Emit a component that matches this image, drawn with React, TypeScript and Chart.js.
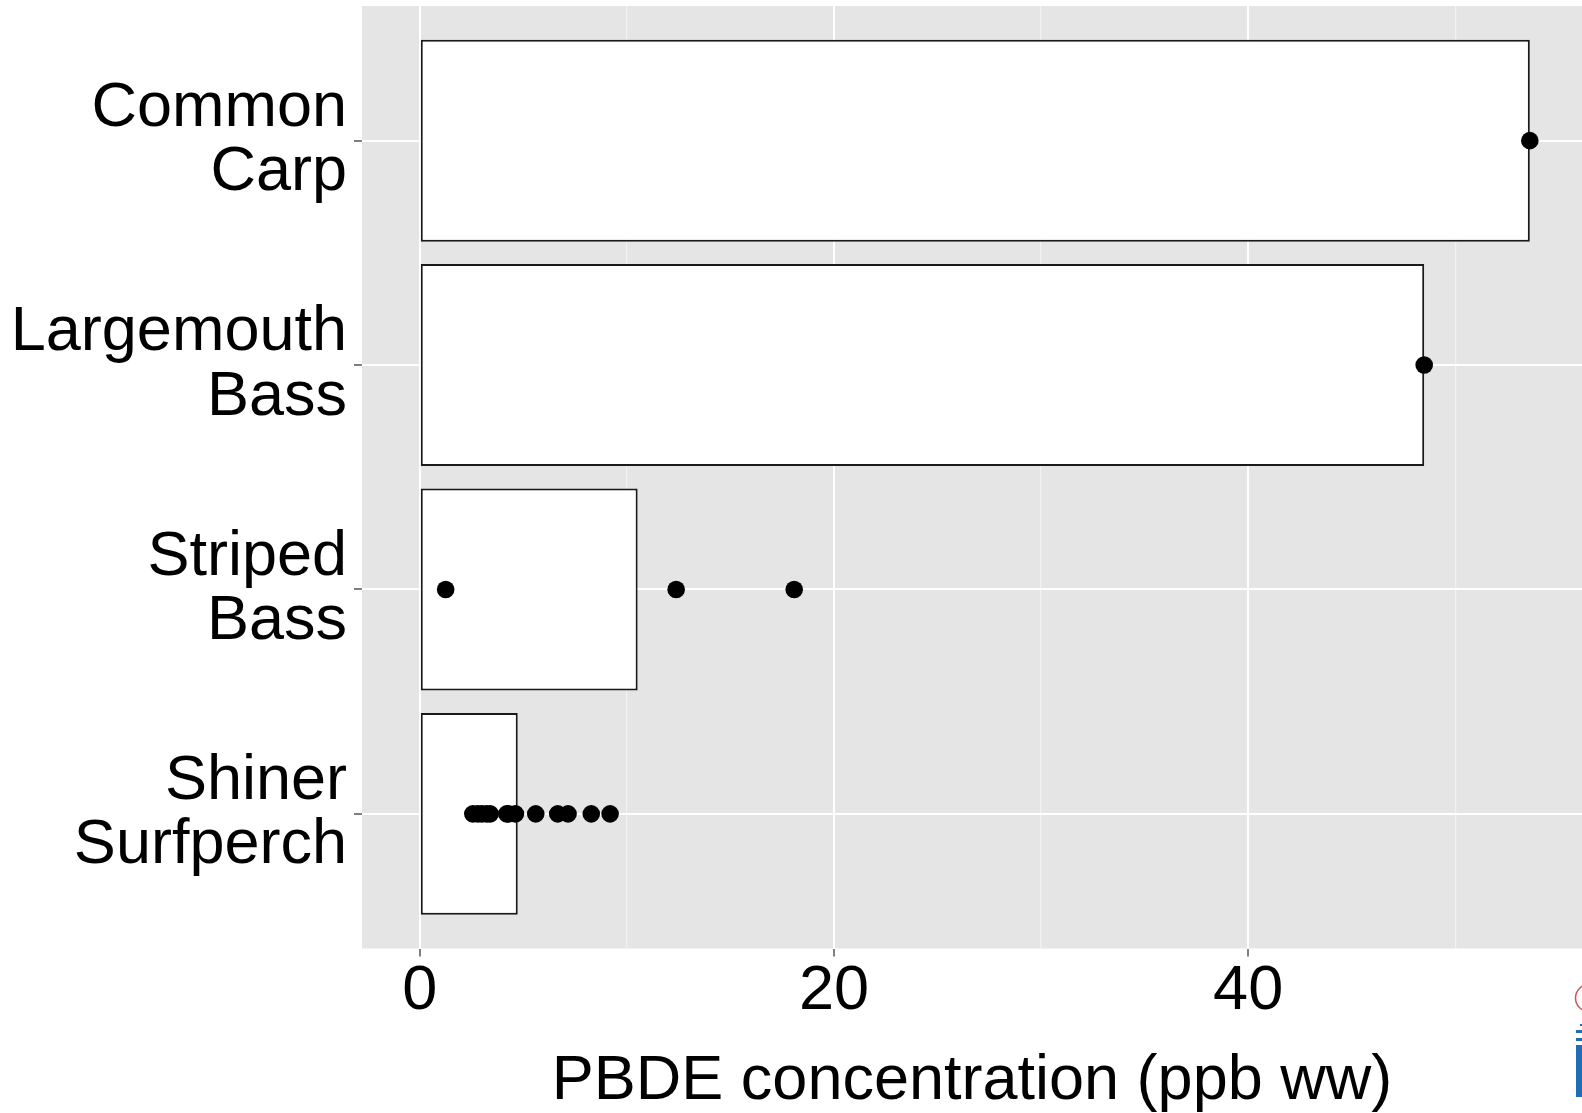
import React, { useEffect, useRef } from "react";
import { Chart, registerables } from "chart.js";

Chart.register(...registerables);

// ---- data ----
const categories: string[][] = [
  ["Common", "Carp"],
  ["Largemouth", "Bass"],
  ["Striped", "Bass"],
  ["Shiner", "Surfperch"],
];
const barValues = [53.6, 48.5, 10.52, 4.73];
const commonCarpSamples = [53.6];
const largemouthBassSamples = [48.5];
const stripedBassSamples = [1.25, 12.38, 18.08];
const shinerSurfperchSamples = [2.56, 2.8, 3.0, 3.23, 3.4, 4.2, 4.28, 4.62, 5.6, 6.66, 7.16, 8.28, 9.19];
const xGridTicks = [0, 10, 20, 30, 40, 50];
const xLabelTicks = [0, 20, 40];
const xTitle = "PBDE concentration (ppb ww)";
const xMin = -2.79;
const xMax = 56.12;

const FONT = "'Liberation Sans', Arial, sans-serif";
const W = 1582;
const H = 1113;

export default function App() {
  const ref = useRef<HTMLCanvasElement | null>(null);

  useEffect(() => {
    if (!ref.current) return;
    const samples = [commonCarpSamples, largemouthBassSamples, stripedBassSamples, shinerSurfperchSamples];
    const points = samples.flatMap((arr, i) => arr.map((v) => ({ x: v, y: i + 1 })));
    const isMajor = (v: any) => xLabelTicks.includes(v);

    const bgPlugin = {
      id: "panelBg",
      beforeDraw(chart: any) {
        const { ctx, chartArea } = chart;
        ctx.save();
        ctx.fillStyle = "#ffffff";
        ctx.fillRect(0, 0, chart.width, chart.height);
        ctx.fillStyle = "#E5E5E5";
        ctx.fillRect(chartArea.left, chartArea.top, chartArea.right - chartArea.left, chartArea.bottom - chartArea.top);
        ctx.restore();
      },
      afterDraw(chart: any) {
        // partially cropped logo in the bottom-right corner
        const { ctx } = chart;
        ctx.save();
        ctx.strokeStyle = "#C8555A";
        ctx.lineWidth = 1.5;
        ctx.beginPath();
        ctx.arc(1589, 998, 13.5, 0, Math.PI * 2);
        ctx.stroke();
        ctx.fillStyle = "#1F6DB4";
        ctx.fillRect(1580, 1024, 2, 2);
        ctx.fillRect(1576, 1030, 6, 3);
        ctx.fillRect(1576, 1038, 6, 3);
        ctx.fillRect(1576, 1045, 6, 52);
        ctx.restore();
      },
    };

    const chart = new Chart(ref.current, {
      type: "scatter",
      data: {
        datasets: [
          {
            type: "bar",
            indexAxis: "y",
            data: barValues.map((v, i) => ({ x: v, y: i + 1 })),
            backgroundColor: "#ffffff",
            borderColor: "#1a1a1a",
            borderWidth: 2,
            borderSkipped: false,
            barPercentage: 0.9,
            categoryPercentage: 1,
            order: 2,
          } as any,
          {
            type: "scatter",
            data: points,
            pointRadius: 8.8,
            pointHoverRadius: 8.8,
            backgroundColor: "#000000",
            borderWidth: 0,
            order: 1,
          } as any,
        ],
      },
      options: {
        animation: false,
        responsive: false,
        events: [],
        layout: { autoPadding: false, padding: { top: 6, left: 0, right: 0, bottom: 0 } },
        plugins: { legend: { display: false }, tooltip: { enabled: false } },
        scales: {
          x: {
            type: "linear",
            position: "bottom",
            offset: false,
            min: xMin,
            max: xMax,
            afterBuildTicks: (s: any) => {
              s.ticks = xGridTicks.map((v) => ({ value: v }));
            },
            afterFit: (s: any) => {
              s.height = 164.5;
              s.paddingLeft = 0;
              s.paddingRight = 0;
            },
            border: { display: false },
            grid: {
              offset: false,
              color: (c: any) => (isMajor(c.tick?.value) ? "#ffffff" : "#F2F2F2"),
              lineWidth: (c: any) => (isMajor(c.tick?.value) ? 2 : 1.2),
              tickColor: (c: any) => (isMajor(c.tick?.value) ? "#7F7F7F" : "rgba(0,0,0,0)"),
              tickWidth: 2,
              tickLength: 8,
            },
            ticks: {
              autoSkip: false,
              maxRotation: 0,
              padding: 4,
              color: "#000000",
              font: { family: FONT, size: 63, lineHeight: 1.0 },
              callback: (v: any) => (isMajor(v) ? String(v) : ""),
            },
            title: {
              display: true,
              text: xTitle,
              color: "#000000",
              font: { family: FONT, size: 63, lineHeight: 1.0 },
              padding: { top: 0, bottom: 0 },
            },
          } as any,
          y: {
            type: "linear",
            position: "left",
            offset: false,
            min: 0.4,
            max: 4.6,
            reverse: true,
            afterBuildTicks: (s: any) => {
              s.ticks = categories.map((_, i) => ({ value: i + 1 }));
            },
            afterFit: (s: any) => {
              s.width = 362;
              s.paddingTop = 0;
              s.paddingBottom = 0;
            },
            border: { display: false },
            grid: {
              offset: false,
              color: "#ffffff",
              lineWidth: 2,
              tickColor: "#7F7F7F",
              tickWidth: 2,
              tickLength: 8,
            },
            ticks: {
              autoSkip: false,
              padding: 7,
              color: "#000000",
              font: { family: FONT, size: 63, lineHeight: 1.024 },
              callback: (v: any) => categories[Math.round(v) - 1] ?? "",
            },
          } as any,
        },
      },
      plugins: [bgPlugin],
    });

    return () => chart.destroy();
  }, []);

  return (
    <div style={{ position: "absolute", left: 0, top: 0, width: W, height: H, overflow: "hidden", background: "#fff" }}>
      <canvas ref={ref} width={W} height={H} style={{ display: "block", width: W, height: H }} />
    </div>
  );
}
